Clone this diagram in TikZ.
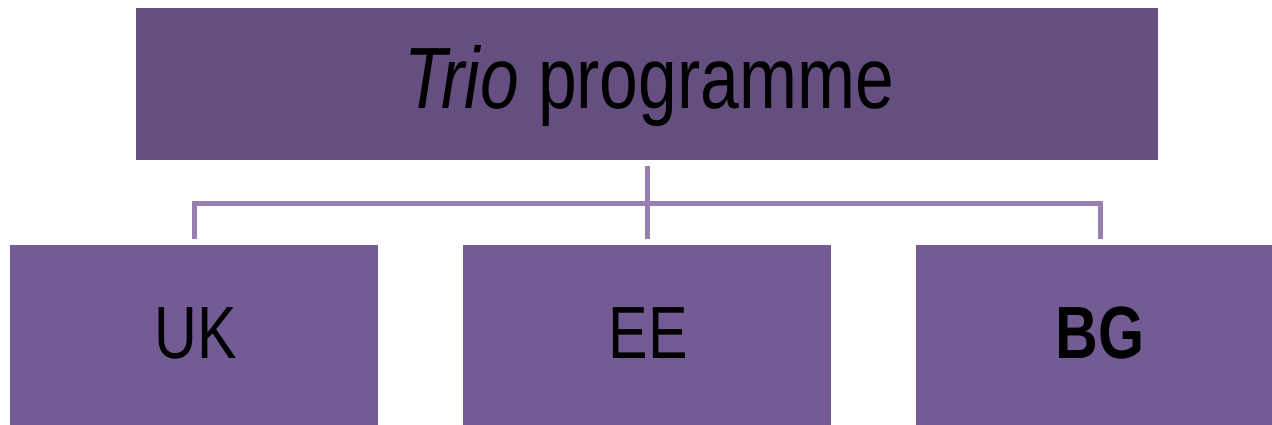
\documentclass[tikz,border=0pt]{standalone}
\usepackage{graphicx}
\usepackage{fontspec}
\setmainfont{Liberation Sans}
\usepackage{xcolor}
\definecolor{trioTop}{HTML}{654F80}
\definecolor{trioBox}{HTML}{735B93}
\definecolor{trioLine}{HTML}{977FB2}
\tikzset{
  topbox/.style={fill=trioTop,inner sep=0pt,minimum width=1022pt,minimum height=152pt},
  countrybox/.style={fill=trioBox,inner sep=0pt,minimum width=368pt,minimum height=180pt},
  boxtext/.style={anchor=base,inner sep=0pt},
  conn/.style={trioLine,line width=5pt},
}
\newcommand{\squeeze}[1]{\scalebox{0.8}[1]{#1}}
\newcommand{\bigtext}{\fontsize{87}{90}\selectfont}
\newcommand{\midtext}{\fontsize{74}{78}\selectfont}

\begin{document}
\begin{tikzpicture}[x=1pt,y=-1pt]
    \useasboundingbox (0,0) rectangle (1272,425);
    \clip (0,0) rectangle (1272,425);
    % boxes
    \node[topbox] (trio) at (647,84) {};
    \node[countrybox] (uk) at (194,335) {};
    \node[countrybox] (ee) at (647,335) {};
    \node[countrybox] (bg) at (1100,335) {};
    % texts
    \node[boxtext] (triotext) at (649,109) {\bigtext\squeeze{\textit{Trio} programme}};
    \node[boxtext] (uktext) at (196,358) {\midtext\squeeze{UK}};
    \node[boxtext] (eetext) at (648,358) {\midtext\squeeze{EE}};
    \node[boxtext] (bgtext) at (1100,358) {\midtext\squeeze{\textbf{BG}}};
    % connectors
    \coordinate (hub) at (648,203);
    \draw[conn] ([yshift=-6pt]trio.south) -- ([yshift=6pt]ee.north);
    \draw[conn] ([yshift=6pt]uk.north) |- (hub) -| ([yshift=6pt]bg.north);
\end{tikzpicture}
\end{document}
